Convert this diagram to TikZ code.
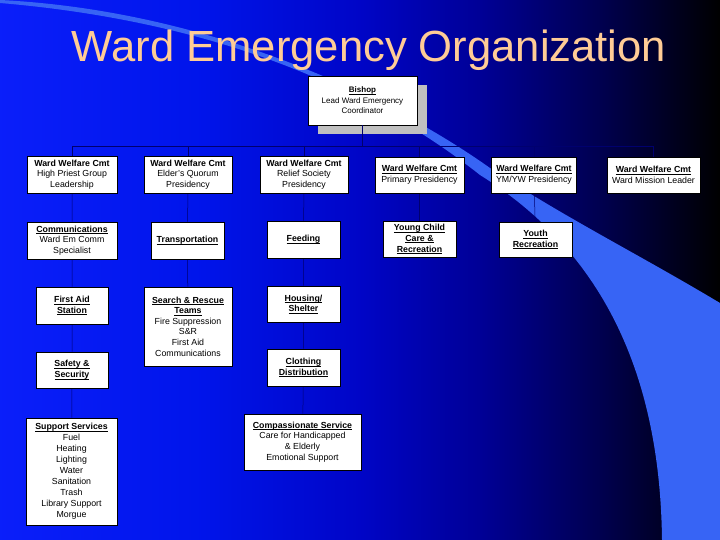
\documentclass[tikz,border=0pt]{standalone}
\usepackage{fontspec}
\setmainfont{Liberation Sans}
\usetikzlibrary{backgrounds,shadows}
\tikzset{every picture/.style={line width=0.6pt}}
\pgfdeclarelayer{edges}
\pgfsetlayers{background,edges,main}
\definecolor{titlepeach}{RGB}{255,204,150}
\definecolor{swooshblue}{RGB}{55,100,245}
\definecolor{linknavy}{RGB}{0,0,110}
\definecolor{shadowgray}{RGB}{192,192,192}
\pgfdeclarehorizontalshading{slidebg}{100bp}{rgb(0bp)=(0.04,0.12,0.98); rgb(25bp)=(0.04,0.12,0.98); rgb(38.9bp)=(0,0.08,0.92); rgb(50bp)=(0,0.02,0.78); rgb(58.3bp)=(0,0,0.59); rgb(66.7bp)=(0,0,0.31); rgb(75bp)=(0,0,0); rgb(100bp)=(0,0,0)}
\newsavebox{\headbox}
\newcommand{\boxhead}[1]{\sbox{\headbox}{\textbf{#1}}\rlap{\rule[-1.5pt]{\wd\headbox}{0.5pt}}\usebox{\headbox}}

\begin{document}
\begin{tikzpicture}[x=1pt, y=-1pt,
    box/.style={draw=black, fill=white, align=center, inner sep=1pt,
        font=\fontsize{8.8}{10.6}\selectfont},
    wide/.style={box, minimum width=89, minimum height=37},
    narrow/.style={box, minimum width=73, minimum height=37},
    link/.style={draw=linknavy, line width=0.5pt}]
    \useasboundingbox (0,0) rectangle (720,540);

    % 背景与弧带
    \begin{scope}[on background layer]
        \shade[shading=slidebg] (0,0) rectangle (720,540);
        \fill[swooshblue] (0,3) .. controls (200,20) and (360,80) .. (480,175)
            .. controls (600,250) and (660,370) .. (662,540) -- (720,540) -- (720,303)
            .. controls (640,255) and (560,215) .. (490,168)
            .. controls (380,90) and (200,10) .. (0,0) -- cycle;
    \end{scope}

    % 标题
    \node[anchor=base, text=titlepeach, font=\fontsize{43.6}{50}\selectfont]
        (title) at (369,62) {Ward Emergency Organization};

    % 主教
    \node[box, minimum width=109, minimum height=49, font=\fontsize{8}{10.5}\selectfont,
        drop shadow={shadow xshift=10pt, shadow yshift=-9pt, fill=shadowgray, opacity=1}]
        (bishop) at (362.5,100.5) {\boxhead{Bishop}\\Lead Ward Emergency\\Coordinator};

    % 第一行：福利委员会
    \node[wide, minimum width=90] (hp) at (72,174.5) {\textbf{Ward Welfare Cmt}\\High Priest Group\\Leadership};
    \node[wide, minimum width=88] (ep) at (188,174.5) {\textbf{Ward Welfare Cmt}\\Elder's Quorum\\Presidency};
    \node[wide, minimum width=88] (rs) at (304,174.5) {\textbf{Ward Welfare Cmt}\\Relief Society\\Presidency};
    \node[wide, minimum height=36] (primary) at (419.5,175) {\boxhead{Ward Welfare Cmt}\\Primary Presidency};
    \node[wide, minimum width=85, minimum height=36] (ymyw) at (534,175) {\boxhead{Ward Welfare Cmt}\\YM/YW Presidency};
    \node[wide, minimum width=93, minimum height=36] (mission) at (653.5,175) {\boxhead{Ward Welfare Cmt}\\Ward Mission Leader};

    % 第二行
    \node[wide, minimum width=90] (comm) at (72,240.5) {\boxhead{Communications}\\Ward Em Comm\\Specialist};
    \node[narrow] (transport) at (187.5,240.5) {\boxhead{Transportation}};
    \node[narrow] (feeding) at (303.5,239.5) {\boxhead{Feeding}};
    \node[narrow, minimum height=36] (youngchild) at (419.5,239) {\boxhead{Young Child}\\\boxhead{Care \&}\\\boxhead{Recreation}};
    \node[narrow, minimum height=35] (youth) at (535.5,239.5) {\boxhead{Youth}\\\boxhead{Recreation}};

    % 第三、四行
    \node[narrow, minimum width=72] (firstaid) at (72,305.5) {\boxhead{First Aid}\\\boxhead{Station}};
    \node[wide, minimum width=88, minimum height=79] (sar) at (188,326.5)
        {\boxhead{Search \& Rescue}\\\boxhead{Teams}\\Fire Suppression\\S\&R\\First Aid\\Communications};
    \node[narrow, minimum height=36] (housing) at (303.5,304) {\boxhead{Housing/}\\\boxhead{Shelter}};
    \node[narrow, minimum width=72, minimum height=36] (safety) at (72,370) {\boxhead{Safety \&}\\\boxhead{Security}};
    \node[narrow] (clothing) at (303.5,367.5) {\boxhead{Clothing}\\\boxhead{Distribution}};

    % 最后一行
    \node[box, minimum width=91, minimum height=107, font=\fontsize{8.8}{11}\selectfont] (support) at (71.5,471.5)
        {\boxhead{Support Services}\\Fuel\\Heating\\Lighting\\Water\\Sanitation\\Trash\\Library Support\\Morgue};
    \node[box, minimum width=117, minimum height=56] (compassion) at (302.5,442)
        {\boxhead{Compassionate Service}\\Care for Handicapped\\\& Elderly\\Emotional Support};

    % 连线
    \draw[link] (bishop.south) -- (bishop.south |- 0,146);
    \begin{pgfonlayer}{edges}
        \coordinate (bus) at (0,146);
        \draw[link] (hp.north |- bus) -- (mission.north |- bus);
        \foreach \n in {hp,ep,rs,primary,ymyw,mission}
            \draw[link] (\n.north) -- (\n.north |- bus);
        \draw[link] (hp) -- (comm) -- (firstaid) -- (safety) -- (support);
        \draw[link] (ep) -- (transport) -- (sar);
        \draw[link] (rs) -- (feeding) -- (housing) -- (clothing) -- (compassion);
        \draw[link] (primary) -- (youngchild);
        \draw[link] (ymyw) -- (youth);
    \end{pgfonlayer}
\end{tikzpicture}
\end{document}
